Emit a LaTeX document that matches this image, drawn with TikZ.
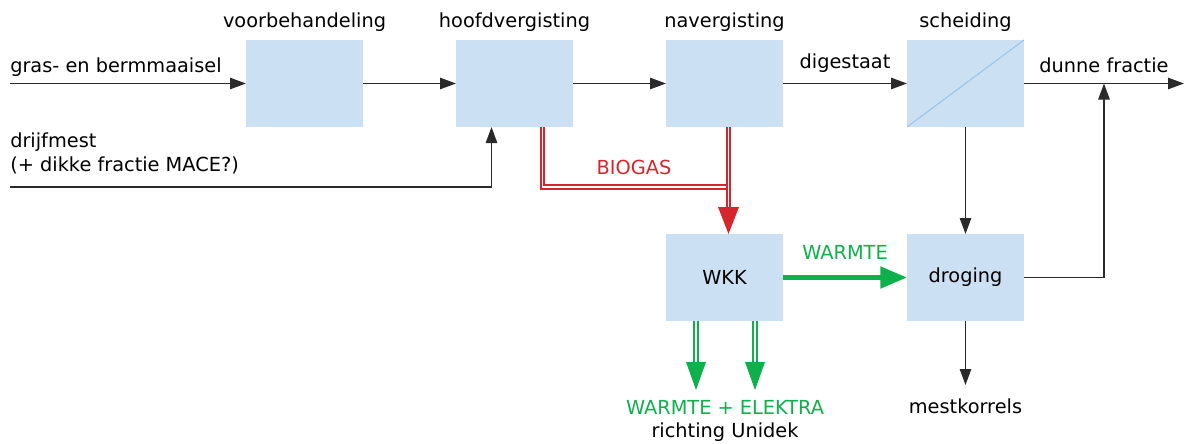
\documentclass[tikz,border=0pt]{standalone}
\usepackage{fontspec}
\setmainfont{DejaVu Sans}
\usepackage{xcolor}
\usepackage{tikz}
\usetikzlibrary{arrows.meta}
\usetikzlibrary{calc}
\usetikzlibrary{positioning}
\definecolor{boxblue}{HTML}{CCE0F3}
\definecolor{lineblue}{HTML}{9DC3E6}
\definecolor{gasred}{HTML}{D7252D}
\definecolor{heatgreen}{HTML}{0DB04B}
\definecolor{linegray}{HTML}{2A2A2A}
\tikzstyle{blok} = [fill=boxblue, minimum width=87.75pt, minimum height=65.25pt, inner sep=0pt, outer sep=0pt]
\tikzstyle{arrow} = [line width=1.3pt, draw=linegray, -{Triangle[length=12pt,width=8.5pt]}]
\tikzstyle{gas} = [draw=gasred, line width=1.8pt, double=white, double distance=0.8pt]
\tikzstyle{heat} = [draw=heatgreen, line width=1.8pt, double=white, double distance=0.8pt]

\begin{document}
\begin{tikzpicture}[x=0.75pt, y=-0.75pt, font=\fontsize{14.5}{17.5}\selectfont]
			\useasboundingbox (0,0) rectangle (1185,443);
			% Process steps
			\node[blok] (voorb) at (304.5,83.5) {};
			\node[blok, right=69.75pt of voorb] (hoofd) {};
			\node[blok, right=69.75pt of hoofd] (naverg) {};
			\node[blok, right=93pt of naverg] (scheid) {};
			\draw[lineblue, line width=0.8pt] (scheid.south west) -- (scheid.north east);
			
			\node[blok, below=80.25pt of naverg] (wkk) {WKK};
			\node[blok, right=93pt of wkk] (droog) {droging};
			
			\node[anchor=base] at (voorb |- 0,27) {voorbehandeling};
			\node[anchor=base] at (hoofd |- 0,27) {hoofdvergisting};
			\node[anchor=base] at (naverg |- 0,27) {navergisting};
			\node[anchor=base] at (scheid |- 0,27) {scheiding};
			
			% Inputs
			\coordinate (gras) at (10,83.5);
			\coordinate (mest) at (10,187);
			\node[anchor=base west, inner sep=0pt] at (10,72) {gras- en bermmaaisel};
			\node[anchor=north west, align=left, inner sep=0pt] at (10,133) {drijfmest\\(+ dikke fractie MACE?)};
			\draw[arrow] (gras) -- (voorb);
			\draw[arrow] (mest) -| ($ (hoofd.south) + (-23,0) $);
			
			% Main line
			\draw[arrow] (voorb) -- (hoofd);
			\draw[arrow] (hoofd) -- (naverg);
			\draw[arrow] (naverg) -- (scheid) node[midway, above=4pt] {digestaat};
			\coordinate (uit) at (1184,83.5);
			\draw[arrow] (scheid) -- (uit) node[pos=0.5, above=4pt] {dunne fractie};
			\draw[arrow] (scheid) -- (droog);
			\coordinate (terug) at (1104,83.5);
			\draw[arrow] (droog.east) -| (terug);
			\coordinate (korrels) at ($ (droog.south) + (0,64) $);
			\draw[arrow] (droog) -- (korrels) node[below=6pt] {mestkorrels};
			
			% Biogas
			\draw[gas] ($ (hoofd.south) + (28,0) $) |- ($ (naverg.south) + (4,60) $);
			\draw[gas] ($ (naverg.south) + (4,0) $) -- ($ (wkk.north) + (4,-26) $);
			\draw[draw=none, fill=gasred] ($ (wkk.north) + (4,0) $) -- ++(-10.5,-27) -- ++(21,0) -- cycle;
			\node[gasred] at (634,167) {BIOGAS};
			
			% Heat and power
			\draw[heatgreen, line width=3.75pt, -{Triangle[length=20pt,width=15.75pt]}] (wkk) -- (droog) node[midway, above=8pt] {WARMTE};
			\coordinate (warm) at ($ (wkk.south) + (-28.5,69) $);
			\coordinate (elek) at ($ (wkk.south) + (30.5,69) $);
			\draw[heat] ($ (wkk.south) + (-28.5,0) $) -- ($ (warm) + (0,-27) $);
			\draw[heat] ($ (wkk.south) + (30.5,0) $) -- ($ (elek) + (0,-27) $);
			\fill[heatgreen] (warm) -- ++(-10,-28) -- ++(20,0) -- cycle;
			\fill[heatgreen] (elek) -- ++(-10,-28) -- ++(20,0) -- cycle;
			\node[heatgreen, anchor=base] (wke) at (725,414) {WARMTE + ELEKTRA};
			\node[anchor=base] at (725,437) {richting Unidek};
\end{tikzpicture}
\end{document}
